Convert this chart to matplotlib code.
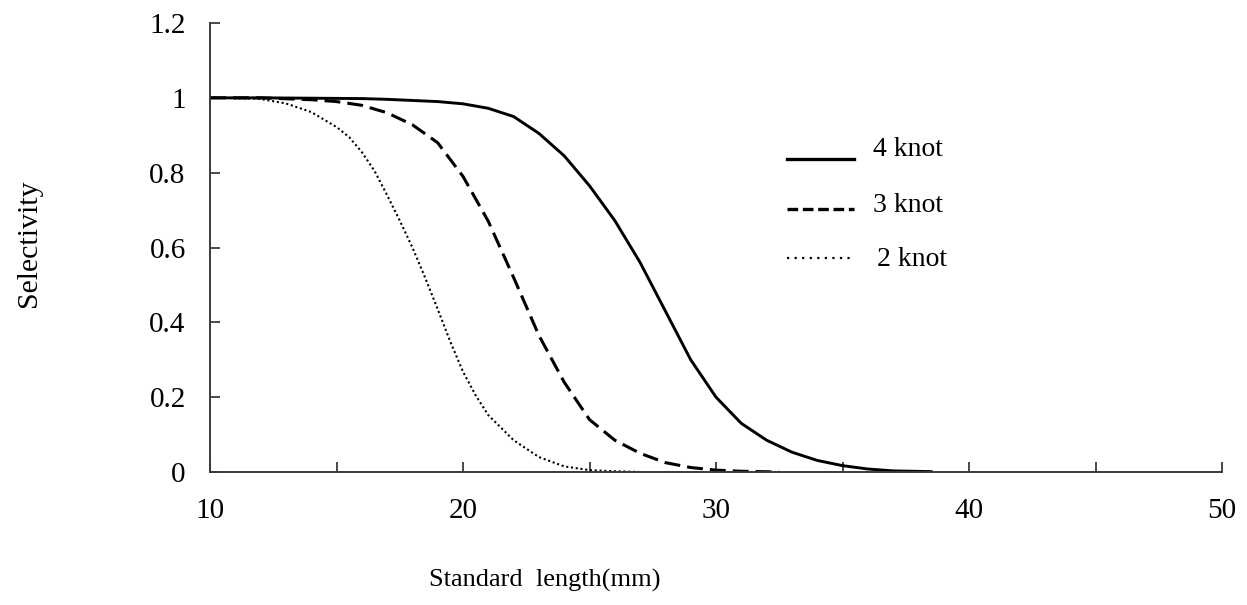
import matplotlib
matplotlib.use("Agg")
import matplotlib.pyplot as plt
from matplotlib.lines import Line2D
from matplotlib.ticker import MultipleLocator, FixedLocator

plt.rcParams['font.family'] = ['Liberation Serif', 'DejaVu Serif']

# Selectivity curves by towing speed
length_4knot = [10, 12, 14, 16, 17, 18, 19, 20, 21, 22, 23, 24, 25, 26, 27, 28,
                29, 30, 31, 32, 33, 34, 35, 36, 37, 38.5]
sel_4knot = [1.0, 1.0, 0.999, 0.998, 0.996, 0.993, 0.99, 0.984, 0.972, 0.95, 0.905,
             0.845, 0.765, 0.672, 0.56, 0.43, 0.30, 0.20, 0.13, 0.085, 0.053, 0.031,
             0.017, 0.008, 0.003, 0.001]

length_3knot = [10, 12, 14, 15, 16, 17, 18, 19, 20, 21, 22, 23, 24, 25, 26, 27,
                28, 29, 30, 31, 32.5]
sel_3knot = [1.0, 1.0, 0.995, 0.99, 0.98, 0.96, 0.928, 0.88, 0.79, 0.67, 0.52,
             0.365, 0.24, 0.14, 0.085, 0.05, 0.025, 0.012, 0.005, 0.002, 0.0]

length_2knot = [10, 11, 12, 13, 14, 15, 15.5, 16, 16.5, 17, 17.5, 18, 18.5, 19,
                19.5, 20, 20.5, 21, 22, 23, 24, 25, 26, 27]
sel_2knot = [1.0, 0.999, 0.997, 0.985, 0.962, 0.922, 0.895, 0.855, 0.805, 0.74,
             0.672, 0.6, 0.52, 0.435, 0.348, 0.268, 0.205, 0.152, 0.085, 0.04,
             0.015, 0.005, 0.002, 0.0]

series_labels = ["4 knot", "3 knot", "2 knot"]
x_ticklabels = ["10", "20", "30", "40", "50"]
y_ticklabels = ["0", "0.2", "0.4", "0.6", "0.8", "1", "1.2"]

W, H = 1247, 605
fig = plt.figure(figsize=(W / 100, H / 100), dpi=100)
ax = fig.add_axes([210 / W, 1 - 472 / H, (1222 - 210) / W, (472 - 23) / H])

styles = [
    dict(color='black', lw=2.1, ls='-'),
    dict(color='black', lw=2.2, ls=(0, (5.2, 2.3))),
    dict(color='black', lw=1.5, ls=(0, (1, 1.3))),
]
ax.plot(length_4knot, sel_4knot, **styles[0])
ax.plot(length_3knot, sel_3knot, **styles[1])
ax.plot(length_2knot, sel_2knot, **styles[2])

ax.set_xlim(10, 50)
ax.set_ylim(0, 1.2)

spine_color = '#3a3a3a'
for side in ('top', 'right'):
    ax.spines[side].set_visible(False)
for side in ('left', 'bottom'):
    ax.spines[side].set_color(spine_color)
    ax.spines[side].set_linewidth(1.4)

ax.xaxis.set_major_locator(FixedLocator([10, 20, 30, 40, 50]))
ax.set_xticklabels(x_ticklabels)
ax.xaxis.set_minor_locator(MultipleLocator(5))
ax.yaxis.set_major_locator(FixedLocator([0, 0.2, 0.4, 0.6, 0.8, 1.0, 1.2]))
ax.set_yticklabels(y_ticklabels)

ax.tick_params(axis='x', which='both', direction='in', length=7, width=1.3,
               color=spine_color, labelsize=21, pad=18.5)
ax.tick_params(axis='y', which='major', direction='in', length=7, width=1.3,
               color=spine_color, labelsize=21, pad=17.5)

fig.text(545 / W, 1 - 580 / H, "Standard  length(mm)", ha='center', va='center',
         fontsize=19)
fig.text(29 / W, 1 - 243 / H, "Selectivity", ha='center', va='center',
         rotation=90, fontsize=21.5)

# Key: sample line segments with their labels
key_rows = [159, 209, 258]
key_text_y = [149, 206, 260]
key_text_x = [873, 873, 877]
key_styles = [
    dict(color='black', lw=2.4, ls='-'),
    dict(color='black', lw=2.4, ls=(0, (3.2, 1.4))),
    dict(color='black', lw=1.6, ls=(0, (1, 2.4))),
]
for row, ty, tx, st, lab in zip(key_rows, key_text_y, key_text_x, key_styles,
                                series_labels):
    fig.add_artist(Line2D([787 / W, 854 / W], [1 - row / H] * 2,
                          transform=fig.transFigure, **st))
    fig.text(tx / W, 1 - ty / H, lab, ha='left', va='center', fontsize=20)

fig.savefig("out.png", dpi=100)
